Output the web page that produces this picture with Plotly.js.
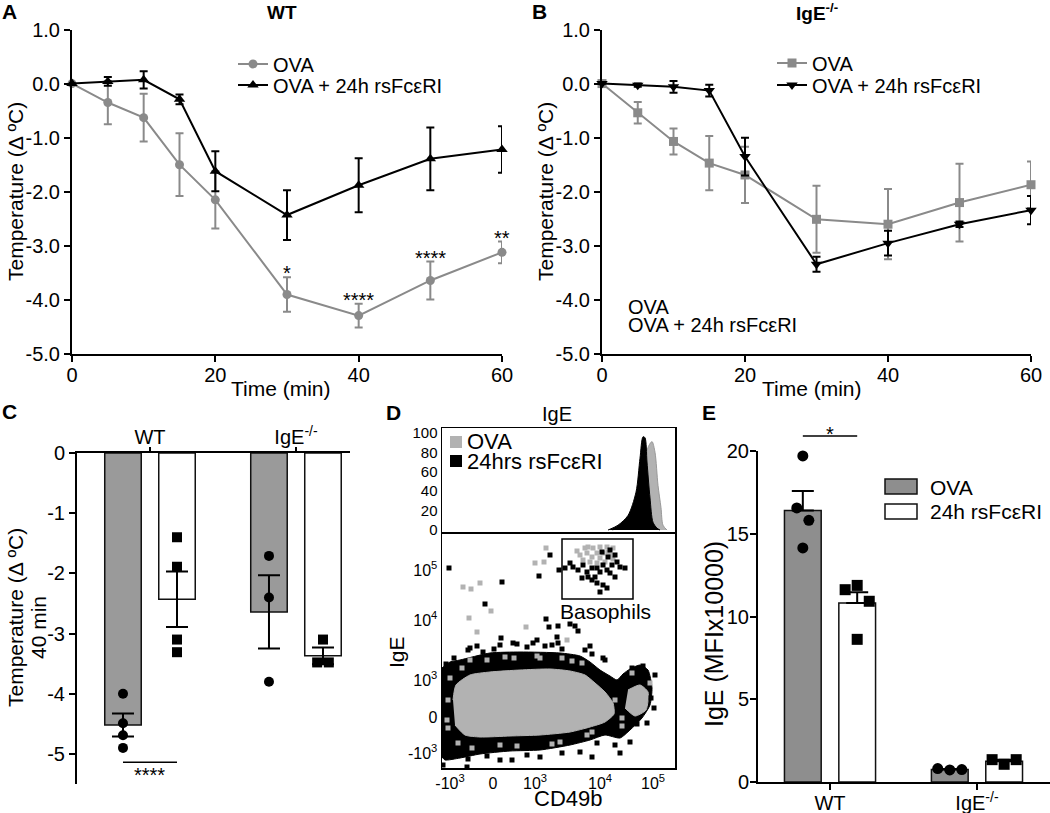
<!DOCTYPE html>
<html><head><meta charset="utf-8">
<script src="https://cdn.plot.ly/plotly-3.0.1.min.js"></script>
<style>html,body{margin:0;padding:0;background:#fff}#chart{width:1050px;height:813px}</style>
</head><body><div id="chart"></div>
<script>
// ---------- DATA ----------
// Panel A (WT) and B (IgE-/-): temperature change over time
const timeMin = [0, 5, 10, 15, 20, 30, 40, 50, 60];
const wtOva = [0, -0.35, -0.63, -1.50, -2.15, -3.90, -4.29, -3.64, -3.12];
const wtOvaSem = [0, 0.40, 0.44, 0.58, 0.53, 0.32, 0.22, 0.35, 0.20];
const wtRs = [0, 0.04, 0.07, -0.29, -1.62, -2.43, -1.88, -1.39, -1.22];
const wtRsSem = [0, 0.08, 0.16, 0.09, 0.37, 0.46, 0.50, 0.58, 0.43];
const wtStars = ['', '', '', '', '', '*', '****', '****', '**'];
const koOva = [0, -0.54, -1.07, -1.47, -1.69, -2.51, -2.60, -2.20, -1.87];
const koOvaSem = [0, 0.20, 0.24, 0.50, 0.52, 0.62, 0.65, 0.72, 0.43];
const koRs = [0, -0.03, -0.06, -0.13, -1.35, -3.34, -2.95, -2.60, -2.34];
const koRsSem = [0, 0.03, 0.11, 0.11, 0.35, 0.14, 0.23, 0.05, 0.26];
const tempTicks = [-5, -4, -3, -2, -1, 0, 1];
const timeTicks = [0, 20, 40, 60];
const nameOva = 'OVA';
const nameRs = 'OVA + 24h rsFcεRI';

// Panel C: temperature at 40 min
const groups = ['WT', 'IgE<sup>-/-</sup>'];
const c40Ova = [-4.52, -2.64];
const c40OvaSem = [0.19, 0.61];
const c40Rs = [-2.43, -3.37];
const c40RsSem = [0.46, 0.14];
const c40OvaPts = [[-4.00, -4.49, -4.69, -4.90], [-1.71, -2.40, -3.80]];
const c40RsPts = [[-1.40, -1.89, -3.10, -3.31], [-3.10, -3.48, -3.48]];
const cTicks = [0, -1, -2, -3, -4, -5];

// Panel D: flow cytometry (display channel units)
const histTicks = [0, 20, 40, 60, 80, 100];
const histOvaX = [170, 180, 188, 191, 195, 198, 203, 206, 210, 213, 216, 219, 221, 225];
const histOvaY = [0, 3, 8, 14, 25, 35, 64, 85, 91, 80, 46, 23, 5, 0];
const histRsX = [166, 176, 186, 194, 198, 201, 203, 205, 208, 211, 215, 218];
const histRsY = [0, 5, 15, 39, 74, 96, 95, 70, 33, 8, 2, 0];
const cd49bTickPos = [8, 51, 93, 158, 211];
const cd49bTickText = ['-10<sup>3</sup>', '0', '10<sup>3</sup>', '10<sup>4</sup>', '10<sup>5</sup>'];
const igeTickPos = [15, 51, 88, 148, 198];
const igeTickText = ['-10<sup>3</sup>', '0', '10<sup>3</sup>', '10<sup>4</sup>', '10<sup>5</sup>'];
// dense cloud outlines
const cloudBlackX = [0, 8, 18, 48, 78, 118, 138, 148, 158, 168, 175, 181, 188, 198, 206, 210, 208, 200, 188, 178, 163, 148, 128, 98, 68, 38, 18, 3, 0];
const cloudBlackY = [100, 106, 108, 115, 116, 115, 112, 106, 98, 92, 88, 94, 99, 103, 98, 80, 63, 50, 38, 30, 33, 28, 23, 18, 17, 14, 10, 8, 11];
const cloudGrayX = [11, 14, 28, 48, 78, 108, 128, 143, 153, 163, 171, 172, 163, 148, 128, 98, 68, 38, 23, 13, null, 186, 198, 206, 204, 193, 183];
const cloudGrayY = [68, 83, 93, 96, 98, 99, 97, 93, 85, 76, 65, 54, 46, 41, 36, 33, 32, 31, 33, 43, null, 78, 83, 76, 58, 52, 60];
// individual events
const evBlackX = [7, 108, 97, 60, 43, 117, 104, 59, 71, 107, 116, 128, 133, 136, 95, 115, 26, 41, 75, 91, 110, 116, 148, 161, 190, 201, 178, 150, 70, 26, 1, 25,
  28, 58, 103, 143, 163, 58, 98, 138, 173, 188, 213, 3, 2, 10, 160, 180, 212, 205,
  35, 52, 85, 120, 150, 12, 4, 1, 4, 2, 45, 85, 120, 155, 195, 209];
const evBlackY = [200, 213, 192, 186, 164, 198, 149, 130, 125, 141, 142, 144, 142, 137, 128, 131, 118, 116, 124, 125, 123, 125, 122, 110, 100, 102, 15, 11, 8, 9, 3, 1,
  120, 123, 122, 118, 108, 8, 11, 16, 23, 26, 93, 40, 75, 95, 38, 40, 60, 45,
  122, 119, 121, 119, 114, 110, 104, 60, 30, 85, 12, 13, 15, 25, 44, 70];
const evGrayX = [21, 29, 38, 49, 27, 35, 93, 102, 104, 84, 125, 28, 63, 98, 130, 6, 5, 58, 118, 173, 196, 208, 180, 16, 150,
  20, 45, 72, 95, 120, 140, 8, 6, 30, 75, 110, 145, 190, 200, 180];
const evGrayY = [181, 179, 185, 157, 150, 136, 205, 206, 220, 141, 128, 108, 111, 110, 107, 68, 48, 23, 26, 68, 70, 85, 50, 25, 36,
  100, 108, 110, 112, 110, 105, 90, 40, 20, 22, 24, 33, 95, 62, 42];
const basoGrayX = [135, 143, 146, 151, 158, 165, 171, 138, 145, 150, 155, 161, 168, 141, 148, 155, 163, 158, 166, 171];
const basoGrayY = [217, 220, 221, 220, 221, 221, 220, 213, 215, 211, 215, 215, 213, 208, 206, 205, 206, 210, 216, 209];
const basoBlackX = [123, 128, 131, 136, 141, 145, 150, 153, 158, 165, 170, 175, 178, 183, 173, 166, 161, 155, 158, 165, 161, 140, 146, 150, 173, 168, 155, 168, 160];
const basoBlackY = [200, 205, 201, 198, 203, 196, 200, 191, 196, 198, 203, 206, 201, 200, 213, 211, 203, 185, 176, 180, 183, 190, 191, 188, 191, 195, 200, 218, 216];
const basoGate = [120, 191, 169, 229];

// Panel E: IgE MFI
const eOva = [16.41, 0.76];
const eOvaSem = [1.17, 0.03];
const eRs = [10.82, 1.26];
const eRsSem = [0.64, 0.09];
const eOvaPts = [[19.70, 16.56, 15.81, 14.14], [0.81, 0.73, 0.75]];
const eRsPts = [[11.62, 11.88, 10.92, 8.62], [1.35, 1.07, 1.35]];
const eTicks = [0, 5, 10, 15, 20];

// ---------- LAYOUT HELPERS ----------
const W = 1050, H = 813;
const fx = p => p / W;
const fy = p => 1 - p / H;
const FONT = 'Liberation Sans, Arial, Helvetica, sans-serif';
const GRAY = '#8a8a8a';
const LIGHT = '#b2b2b2';
const BAR_GRAY_C = '#9a9a9a';
const BAR_GRAY_E = '#8e8e8e';
const off = 0.185, bw = 0.25;

function axBase(extra) {
  return Object.assign({
    showline: true, linecolor: '#000', linewidth: 2, ticks: 'outside', ticklen: 6,
    tickwidth: 2, tickcolor: '#000', showgrid: false, zeroline: false,
    tickfont: {size: 20, color: '#000'}, fixedrange: true
  }, extra);
}
function boxAx(extra) {
  return Object.assign({
    showline: true, mirror: true, linecolor: '#000', linewidth: 1.5, ticks: '',
    showgrid: false, zeroline: false, tickfont: {size: 15, color: '#000'}, fixedrange: true
  }, extra);
}
function swarm(vals, thr, step) {
  const cl = [];
  const a = vals.map(v => {
    let c = cl.find(c => Math.abs(c.v - v) < thr);
    if (!c) { c = {v: v, n: 0}; cl.push(c); }
    return {c: c, i: c.n++};
  });
  return a.map(o => (o.i - (o.c.n - 1) / 2) * step);
}
function pointTrace(ptsByGroup, side, sym, thr, step, xa, ya, size) {
  const xs = [], ys = [];
  ptsByGroup.forEach((vals, gi) => {
    const dx = swarm(vals, thr, step);
    vals.forEach((v, k) => { xs.push(gi + side + dx[k]); ys.push(v); });
  });
  return {type: 'scatter', mode: 'markers', x: xs, y: ys, xaxis: xa, yaxis: ya,
    marker: {symbol: sym, size: size, color: '#000'}, showlegend: false, cliponaxis: false, hoverinfo: 'skip'};
}
function lineTrace(y, sem, color, sym, size, name, xa, ya, leg) {
  return {type: 'scatter', mode: 'lines+markers', x: timeMin, y: y, name: name, xaxis: xa, yaxis: ya,
    legend: leg, showlegend: true, cliponaxis: false,
    line: {color: color, width: 2}, marker: {symbol: sym, size: size, color: color},
    error_y: {type: 'data', array: sem, visible: true, color: color, thickness: 2, width: 4}};
}
function barTrace(vals, sem, side, fill, xa, ya, upOnly) {
  const err = {type: 'data', array: sem, visible: true, color: '#000', thickness: 2, width: 11};
  if (upOnly) { err.symmetric = false; err.arrayminus = sem.map(() => 0); }
  return {type: 'bar', x: vals.map((v, i) => i + side), y: vals, width: bw, xaxis: xa, yaxis: ya,
    marker: {color: fill, line: {color: '#111', width: 1.5}}, error_y: err, showlegend: false, hoverinfo: 'skip'};
}

// ---------- TRACES ----------
const traces = [
  // A
  lineTrace(wtOva, wtOvaSem, GRAY, 'circle', 9, nameOva, 'x', 'y', 'legend'),
  lineTrace(wtRs, wtRsSem, '#000', 'triangle-up', 10, nameRs, 'x', 'y', 'legend2'),
  // B
  lineTrace(koOva, koOvaSem, GRAY, 'square', 9, nameOva, 'x2', 'y2', 'legend3'),
  lineTrace(koRs, koRsSem, '#000', 'triangle-down', 10, nameRs, 'x2', 'y2', 'legend4'),
  // C
  barTrace(c40Ova, c40OvaSem, -off, BAR_GRAY_C, 'x3', 'y3', false),
  barTrace(c40Rs, c40RsSem, off, '#fff', 'x3', 'y3', false),
  pointTrace(c40OvaPts, -off, 'circle', 0.1, 0.08, 'x3', 'y3', 10),
  pointTrace(c40RsPts, off, 'square', 0.1, 0.08, 'x3', 'y3', 10),
  // D histogram
  {type: 'scatter', mode: 'lines', x: histOvaX, y: histOvaY, xaxis: 'x4', yaxis: 'y4', fill: 'tozeroy',
    fillcolor: LIGHT, line: {color: '#999', width: 1, shape: 'spline', smoothing: 0.8}, showlegend: false, hoverinfo: 'skip'},
  {type: 'scatter', mode: 'lines', x: histRsX, y: histRsY, xaxis: 'x4', yaxis: 'y4', fill: 'tozeroy',
    fillcolor: '#000', line: {color: '#000', width: 1, shape: 'spline', smoothing: 0.8}, showlegend: false, hoverinfo: 'skip'},
  // D scatter
  {type: 'scatter', mode: 'lines', x: cloudBlackX, y: cloudBlackY, xaxis: 'x5', yaxis: 'y5', fill: 'toself',
    fillcolor: '#000', line: {color: '#000', width: 1, shape: 'spline', smoothing: 0.6}, showlegend: false, hoverinfo: 'skip'},
  {type: 'scatter', mode: 'lines', x: cloudGrayX, y: cloudGrayY, xaxis: 'x5', yaxis: 'y5', fill: 'toself',
    fillcolor: LIGHT, line: {color: LIGHT, width: 1, shape: 'spline', smoothing: 0.6}, showlegend: false, hoverinfo: 'skip'},
  {type: 'scatter', mode: 'markers', x: evBlackX, y: evBlackY, xaxis: 'x5', yaxis: 'y5',
    marker: {symbol: 'square', size: 5, color: '#000'}, showlegend: false, hoverinfo: 'skip'},
  {type: 'scatter', mode: 'markers', x: evGrayX, y: evGrayY, xaxis: 'x5', yaxis: 'y5',
    marker: {symbol: 'square', size: 5, color: LIGHT}, showlegend: false, hoverinfo: 'skip'},
  {type: 'scatter', mode: 'markers', x: basoGrayX, y: basoGrayY, xaxis: 'x5', yaxis: 'y5',
    marker: {symbol: 'square', size: 5, color: LIGHT}, showlegend: false, hoverinfo: 'skip'},
  {type: 'scatter', mode: 'markers', x: basoBlackX, y: basoBlackY, xaxis: 'x5', yaxis: 'y5',
    marker: {symbol: 'square', size: 5, color: '#000'}, showlegend: false, hoverinfo: 'skip'},
  // E
  barTrace(eOva, eOvaSem, -off, BAR_GRAY_E, 'x6', 'y6', true),
  barTrace(eRs, eRsSem, off, '#fff', 'x6', 'y6', true),
  pointTrace(eOvaPts, -off, 'circle', 0.8, 0.082, 'x6', 'y6', 11),
  pointTrace(eRsPts, off, 'square', 0.8, 0.082, 'x6', 'y6', 11)
];

// ---------- AXES ----------
const eXRange = [-0.49, 1.497], eYRange = [0, 20];
const eXDom = [fx(758), 1], eYDom = [fy(782), fy(451)];
const toPaper = (dom, rng, v) => dom[0] + (v - rng[0]) / (rng[1] - rng[0]) * (dom[1] - dom[0]);

const layout = {
  width: W, height: H, margin: {l: 0, r: 0, t: 0, b: 0},
  paper_bgcolor: '#fff', plot_bgcolor: 'rgba(0,0,0,0)',
  font: {family: FONT, color: '#000', size: 20},
  barmode: 'overlay', hovermode: false,
  xaxis: axBase({domain: [fx(72), fx(502)], range: [0, 60], tickvals: timeTicks, anchor: 'y', ticklabelstandoff: -4}),
  yaxis: axBase({domain: [fy(354), fy(29.5)], range: [-5, 1], tickvals: tempTicks, ticktext: tempTicks.map(v => v.toFixed(1)), anchor: 'x'}),
  xaxis2: axBase({domain: [fx(602), fx(1031)], range: [0, 60], tickvals: timeTicks, anchor: 'y2', ticklabelstandoff: -4}),
  yaxis2: axBase({domain: [fy(354), fy(29.5)], range: [-5, 1], tickvals: tempTicks, ticktext: tempTicks.map(v => v.toFixed(1)), anchor: 'x2'}),
  xaxis3: axBase({domain: [fx(77), fx(350)], range: [-0.5, 1.37], side: 'top', tickvals: [0, 1], ticktext: groups, anchor: 'y3', ticklen: 4, ticklabelstandoff: -5}),
  yaxis3: axBase({domain: [fy(784), fy(453)], range: [-5.5, 0], tickvals: cTicks, ticktext: cTicks.map(String), anchor: 'x3'}),
  xaxis4: boxAx({domain: [fx(442), fx(675)], range: [0, 233], showticklabels: false, anchor: 'y4'}),
  yaxis4: boxAx({domain: [fy(532), fy(428)], range: [-2, 105], tickvals: histTicks, anchor: 'x4'}),
  xaxis5: boxAx({domain: [fx(442), fx(675)], range: [0, 233], tickvals: cd49bTickPos, ticktext: cd49bTickText, anchor: 'y5', tickfont: {size: 16, color: '#000'}}),
  yaxis5: boxAx({domain: [fy(768), fy(534)], range: [0, 234], tickvals: igeTickPos, ticktext: igeTickText, anchor: 'x5', tickfont: {size: 16, color: '#000'}}),
  xaxis6: axBase({domain: eXDom, range: eXRange, tickvals: [0, 1], ticktext: groups, anchor: 'y6', ticklabelstandoff: -4}),
  yaxis6: axBase({domain: eYDom, range: eYRange, tickvals: eTicks, anchor: 'x6', ticklabelstandoff: -3}),
  legend: {x: fx(233), y: fy(64), xanchor: 'left', yanchor: 'middle', bgcolor: 'rgba(0,0,0,0)', font: {size: 20}},
  legend2: {x: fx(233), y: fy(85), xanchor: 'left', yanchor: 'middle', bgcolor: 'rgba(0,0,0,0)', font: {size: 20}},
  legend3: {x: fx(772), y: fy(63), xanchor: 'left', yanchor: 'middle', bgcolor: 'rgba(0,0,0,0)', font: {size: 20}},
  legend4: {x: fx(772), y: fy(85), xanchor: 'left', yanchor: 'middle', bgcolor: 'rgba(0,0,0,0)', font: {size: 20}},
  shapes: [],
  annotations: []
};

// ---------- SHAPES ----------
const S = layout.shapes;
// C significance bar between WT groups
S.push({type: 'line', xref: 'x3', yref: 'y3', x0: -off, x1: off, y0: -5.14, y1: -5.14, line: {color: '#000', width: 1.5}});
// E significance bar (above the axis range, in paper coordinates)
S.push({type: 'line', xref: 'paper', yref: 'paper',
  x0: toPaper(eXDom, eXRange, -off), x1: toPaper(eXDom, eXRange, off),
  y0: toPaper(eYDom, eYRange, 20.9), y1: toPaper(eYDom, eYRange, 20.9), line: {color: '#000', width: 1.5}});
// D basophil gate
S.push({type: 'rect', xref: 'x5', yref: 'y5', x0: basoGate[0], x1: basoGate[1], y0: basoGate[2], y1: basoGate[3], line: {color: '#000', width: 1.5}});
// D legend swatches
S.push({type: 'rect', xref: 'paper', yref: 'paper', x0: fx(450), x1: fx(462), y0: fy(448), y1: fy(436), fillcolor: LIGHT, line: {width: 0}});
S.push({type: 'rect', xref: 'paper', yref: 'paper', x0: fx(450), x1: fx(462), y0: fy(467), y1: fy(455), fillcolor: '#000', line: {width: 0}});
// E legend swatches
S.push({type: 'rect', xref: 'paper', yref: 'paper', x0: fx(885), x1: fx(917), y0: fy(494), y1: fy(479), fillcolor: BAR_GRAY_E, line: {color: '#111', width: 1.5}});
S.push({type: 'rect', xref: 'paper', yref: 'paper', x0: fx(885), x1: fx(917), y0: fy(519), y1: fy(504), fillcolor: '#fff', line: {color: '#111', width: 1.5}});

// ---------- ANNOTATIONS ----------
const A = layout.annotations;
function txt(text, x, y, size, opts) {
  A.push(Object.assign({text: text, xref: 'paper', yref: 'paper', x: fx(x), y: fy(y), showarrow: false,
    xanchor: 'center', yanchor: 'middle', font: {size: size, color: '#000', family: FONT}}, opts || {}));
}
// panel letters and titles
txt('<b>A</b>', 9, 11, 21);
txt('<b>B</b>', 539, 11, 21);
txt('<b>C</b>', 9, 411, 21);
txt('<b>D</b>', 393, 412, 21);
txt('<b>E</b>', 709, 412, 21);
txt('<b>WT</b>', 282, 12, 19);
txt('<b>IgE<sup>-/-</sup></b>', 817, 12, 19);
// axis titles
txt('Temperature (Δ ºC)', 15, 192, 21, {textangle: -90});
txt('Time (min)', 281, 388, 21);
txt('Temperature (Δ ºC)', 545, 192, 21, {textangle: -90});
txt('Time (min)', 812, 388, 21);
txt('Temperature (Δ ºC)', 15, 618, 21, {textangle: -90});
txt('40 min', 38, 628, 21, {textangle: -90});
txt('IgE (MFIx10000)', 714, 634, 25, {textangle: -90});
txt('IgE', 557, 414, 20);
txt('IgE', 396, 652, 21, {textangle: -90});
txt('CD49b', 568, 798, 22);
txt('Basophils', 605, 611, 21);
// B leftover text
txt('OVA', 626, 307, 20, {xanchor: 'left'});
txt('OVA + 24h rsFcεRI', 626, 325, 20, {xanchor: 'left'});
// D legend text
txt('OVA', 465, 442, 22, {xanchor: 'left'});
txt('24hrs rsFcεRI', 465, 462, 22, {xanchor: 'left'});
// E legend text
txt('OVA', 928, 487, 21, {xanchor: 'left'});
txt('24h rsFcεRI', 928, 511, 21, {xanchor: 'left'});
// A significance stars
wtStars.forEach((s, i) => {
  if (!s) return;
  A.push({text: s, xref: 'x', yref: 'y', x: timeMin[i], y: wtOva[i] + wtOvaSem[i], showarrow: false,
    xanchor: 'center', yanchor: 'bottom', yshift: -9, font: {size: 20, color: '#000', family: FONT}});
});
// C stars below bar
A.push({text: '****', xref: 'x3', yref: 'y3', x: 0, y: -5.14, showarrow: false, xanchor: 'center', yanchor: 'top',
  font: {size: 20, color: '#000', family: FONT}});
// E star above bar
A.push({text: '*', xref: 'paper', yref: 'paper', x: toPaper(eXDom, eXRange, 0), y: toPaper(eYDom, eYRange, 20.9),
  showarrow: false, xanchor: 'center', yanchor: 'bottom', yshift: -11, font: {size: 20, color: '#000', family: FONT}});

Plotly.newPlot('chart', traces, layout, {staticPlot: true, displayModeBar: false});
</script>
</body></html>
